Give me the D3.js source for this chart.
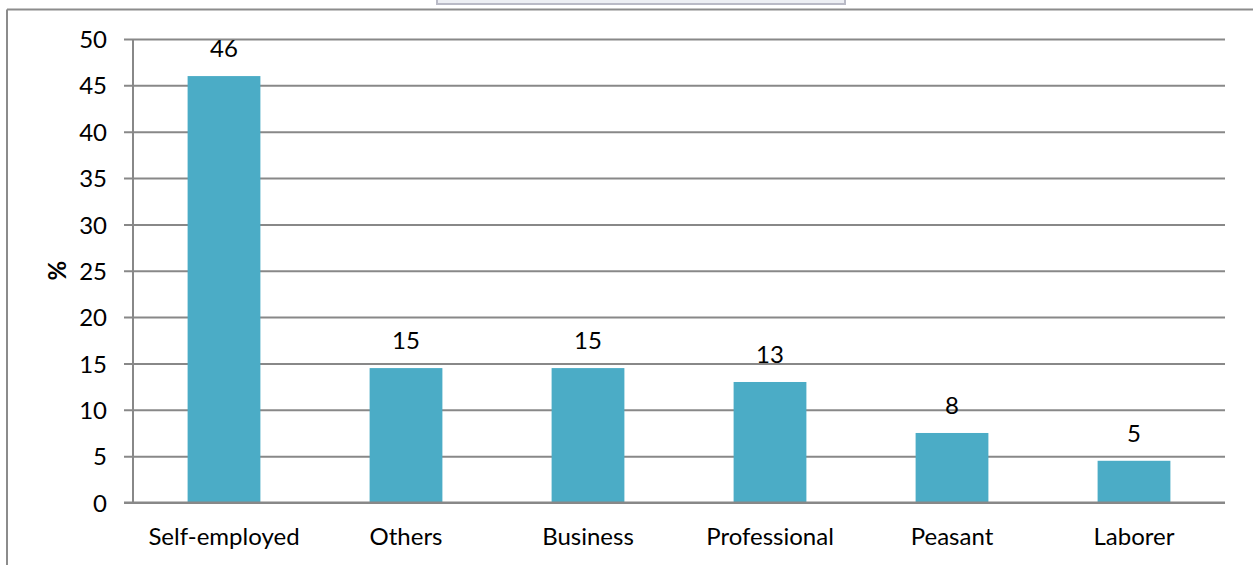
<!DOCTYPE html>
<html>
<head>
<meta charset="utf-8">
<script src="https://cdn.jsdelivr.net/npm/d3@7"></script>
<style>
  html, body { margin: 0; padding: 0; background: #fff; }
  svg { display: block; }
  text { font-family: Lato, "Open Sans", sans-serif; fill: #000; }
</style>
</head>
<body>
<svg id="chart" width="1253" height="565"></svg>
<script>
// Occupation categories and their shares (%)
const categories = ["Self-employed", "Others", "Business", "Professional", "Peasant", "Laborer"];
const values = [46, 14.5, 14.5, 13, 7.5, 4.5];
const yTicks = [0, 5, 10, 15, 20, 25, 30, 35, 40, 45, 50];
const yTitle = "%";

const svg = d3.select("#chart");
const W = 1253, H = 565;
const plot = { left: 133, right: 1225, top: 39, bottom: 502.5 };
const FS = 24;

// Frame around the chart area (top and left edges visible)
svg.append("rect").attr("x", 437).attr("y", -2).attr("width", 408).attr("height", 6)
  .attr("fill", "#eceef3").attr("stroke", "#b9bac6").attr("stroke-width", 2);
svg.append("line").attr("x1", 7).attr("x2", W).attr("y1", 9.5).attr("y2", 9.5)
  .attr("stroke", "#8c8c8c").attr("stroke-width", 2);
svg.append("line").attr("x1", 7).attr("x2", 7).attr("y1", 9.5).attr("y2", H)
  .attr("stroke", "#8c8c8c").attr("stroke-width", 2);

const x = d3.scaleBand().domain(categories).range([plot.left, plot.right]).paddingInner(0.6).paddingOuter(0.3);
const y = d3.scaleLinear().domain([0, 50]).range([plot.bottom, plot.top]);

// Horizontal gridlines with tick marks extending left of the axis
const yAxis = d3.axisLeft(y).tickValues(yTicks).tickSize(-(plot.right - plot.left));
const gy = svg.append("g").attr("transform", `translate(${plot.left},0)`).call(yAxis);
gy.select(".domain").remove();
gy.selectAll(".tick line").attr("stroke", "#888").attr("stroke-width", 2).attr("x1", -9);
gy.selectAll(".tick text").attr("font-size", FS).attr("font-family", "Lato, sans-serif").attr("fill", "#000")
  .attr("dy", "0.36em").attr("x", -26);

// Vertical axis line
svg.append("line").attr("x1", plot.left).attr("x2", plot.left).attr("y1", plot.top).attr("y2", plot.bottom)
  .attr("stroke", "#888").attr("stroke-width", 2);

// Bars
svg.append("g").selectAll("rect").data(values).join("rect")
  .attr("x", (d, i) => x(categories[i]))
  .attr("width", x.bandwidth())
  .attr("y", d => y(d))
  .attr("height", d => y(0) - y(d))
  .attr("fill", "#4BACC6");

// Baseline drawn over the bars
svg.append("line").attr("x1", plot.left - 9).attr("x2", plot.right).attr("y1", y(0)).attr("y2", y(0))
  .attr("stroke", "#888").attr("stroke-width", 2);

// Value labels above bars
const fmt = d3.format(".0f");
svg.append("g").selectAll("text").data(values).join("text")
  .attr("x", (d, i) => x(categories[i]) + x.bandwidth() / 2)
  .attr("y", d => y(d) - 19)
  .attr("text-anchor", "middle")
  .attr("font-size", FS)
  .text(d => fmt(d));

// Category labels
const xAxis = d3.axisBottom(x).tickSize(0).tickPadding(0);
const gx = svg.append("g").attr("transform", `translate(0,${plot.bottom})`).call(xAxis);
gx.select(".domain").remove();
gx.selectAll(".tick text").attr("font-size", FS).attr("font-family", "Lato, sans-serif").attr("fill", "#000")
  .attr("y", 42.5).attr("dy", 0);

// Y axis title
svg.append("text")
  .attr("transform", `translate(57,${(plot.top + plot.bottom) / 2}) rotate(-90)`)
  .attr("text-anchor", "middle").attr("dy", "0.36em")
  .attr("font-size", FS).attr("font-weight", "bold")
  .text(yTitle);
</script>
</body>
</html>
